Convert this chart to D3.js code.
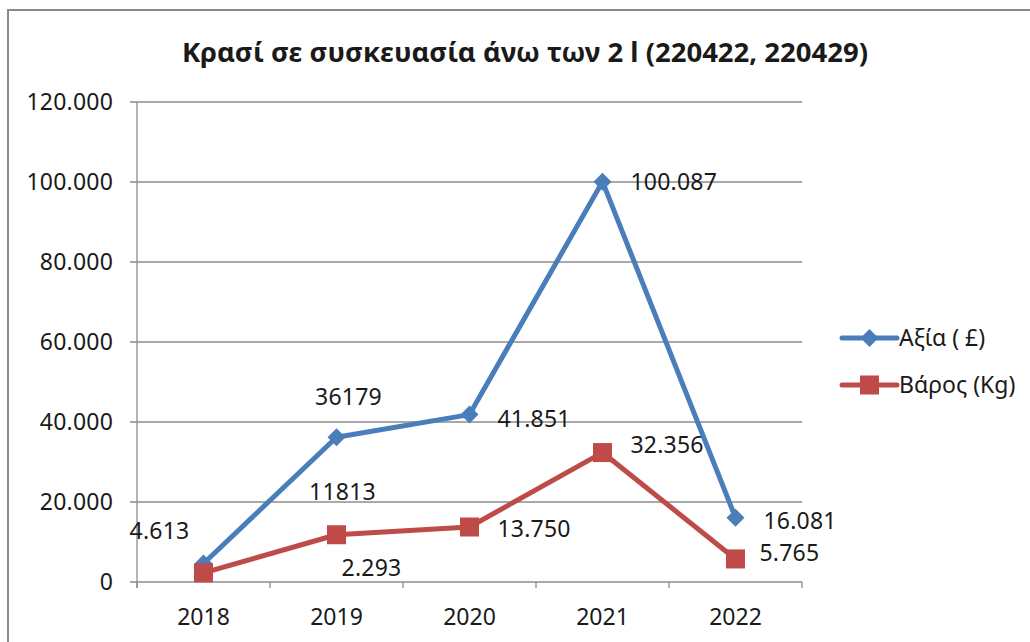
<!DOCTYPE html>
<html>
<head>
<meta charset="utf-8">
<script src="https://cdn.jsdelivr.net/npm/d3@7"></script>
<style>
  html, body { margin: 0; padding: 0; background: #fff; }
  svg { display: block; }
  text { font-family: "Noto Sans", "Liberation Sans", sans-serif; fill: #1a1a1a; }
</style>
</head>
<body>
<svg id="chart" width="1030" height="642"></svg>
<script>
// ---- data ----
const title = "Κρασί σε συσκευασία άνω των 2 l (220422, 220429)";
const years = ["2018", "2019", "2020", "2021", "2022"];
const valueSeriesName = "Αξία ( £)";
const weightSeriesName = "Βάρος (Kg)";
const valueData = [4613, 36179, 41851, 100087, 16081];
const weightData = [2293, 11813, 13750, 32356, 5765];
const valueLabels = ["4.613", "36179", "41.851", "100.087", "16.081"];
const weightLabels = ["2.293", "11813", "13.750", "32.356", "5.765"];
const yTicks = [0, 20000, 40000, 60000, 80000, 100000, 120000];
const yTickLabels = ["0", "20.000", "40.000", "60.000", "80.000", "100.000", "120.000"];

// label placement (offsets from point, px) — layout only
const valueLabelOffsets = [[-44, -25], [12, -32], [28, 12], [28, 8], [28, 11]];
const weightLabelOffsets = [[168, 3], [6, -35], [28, 10], [28, 0], [24, 2]];

const blue = "#4A7EBB";
const red = "#BE4B48";
const grid = "#8c8c8c";
const fs = 23;

const svg = d3.select("#chart");

// outer chart border (extends past right & bottom edges)
svg.append("path")
  .attr("d", "M8,700 L8,10 L1040,10")
  .attr("fill", "none").attr("stroke", "#8a8a8a").attr("stroke-width", 2);

// title
svg.append("text")
  .attr("x", 525).attr("y", 62)
  .attr("text-anchor", "middle")
  .attr("font-weight", "bold")
  .attr("font-size", 27.5)
  .text(title);

const plot = { left: 137, right: 802, top: 102, bottom: 582 };

const x = d3.scaleBand().domain(years).range([plot.left, plot.right]).padding(0);
const y = d3.scaleLinear().domain([0, 120000]).range([plot.bottom, plot.top]);
const cx = d => x(d) + x.bandwidth() / 2;

// gridlines
svg.append("g").selectAll("line").data(yTicks).join("line")
  .attr("x1", plot.left - 7).attr("x2", plot.right)
  .attr("y1", d => y(d)).attr("y2", d => y(d))
  .attr("stroke", grid).attr("stroke-width", 1.3);

// y axis line
svg.append("line")
  .attr("x1", plot.left).attr("x2", plot.left)
  .attr("y1", plot.top).attr("y2", plot.bottom + 6)
  .attr("stroke", grid).attr("stroke-width", 1.3);

// y tick labels
svg.append("g").selectAll("text").data(yTicks).join("text")
  .attr("x", plot.left - 24).attr("y", d => y(d) + 8)
  .attr("text-anchor", "end")
  .attr("font-size", fs)
  .attr("letter-spacing", 0.2)
  .text((d, i) => yTickLabels[i]);

// x category ticks
const boundaries = years.map(d => x(d)).concat([plot.right]);
svg.append("g").selectAll("line").data(boundaries).join("line")
  .attr("x1", d => d).attr("x2", d => d)
  .attr("y1", plot.bottom).attr("y2", plot.bottom + 6)
  .attr("stroke", grid).attr("stroke-width", 1.3);

// x labels
svg.append("g").selectAll("text").data(years).join("text")
  .attr("x", d => cx(d)).attr("y", 625)
  .attr("text-anchor", "middle")
  .attr("font-size", fs)
  .text(d => d);

const line = d3.line().x((d, i) => cx(years[i])).y(d => y(d));

// weight line
svg.append("path").datum(weightData)
  .attr("d", line).attr("fill", "none")
  .attr("stroke", red).attr("stroke-width", 5).attr("stroke-linejoin", "round");
// value line
svg.append("path").datum(valueData)
  .attr("d", line).attr("fill", "none")
  .attr("stroke", blue).attr("stroke-width", 5).attr("stroke-linejoin", "round");

function diamondPath(s) { return `M0,${-s} L${s},0 L0,${s} L${-s},0 Z`; }

// value markers (diamonds)
svg.append("g").selectAll("path").data(valueData).join("path")
  .attr("transform", (d, i) => `translate(${cx(years[i])},${y(d)})`)
  .attr("d", diamondPath(9))
  .attr("fill", blue);

// weight markers (squares)
svg.append("g").selectAll("rect").data(weightData).join("rect")
  .attr("x", (d, i) => cx(years[i]) - 9.5)
  .attr("y", d => y(d) - 9.5)
  .attr("width", 19).attr("height", 19)
  .attr("fill", red);

// data labels
svg.append("g").selectAll("text").data(valueData).join("text")
  .attr("x", (d, i) => cx(years[i]) + valueLabelOffsets[i][0])
  .attr("y", (d, i) => y(d) + valueLabelOffsets[i][1])
  .attr("text-anchor", (d, i) => valueLabelOffsets[i][0] < 0 || i === 1 ? "middle" : "start")
  .attr("font-size", fs)
  .attr("letter-spacing", 0.2)
  .text((d, i) => valueLabels[i]);

svg.append("g").selectAll("text").data(weightData).join("text")
  .attr("x", (d, i) => cx(years[i]) + weightLabelOffsets[i][0])
  .attr("y", (d, i) => y(d) + weightLabelOffsets[i][1])
  .attr("text-anchor", (d, i) => i <= 1 ? "middle" : "start")
  .attr("font-size", fs)
  .attr("letter-spacing", 0.2)
  .text((d, i) => weightLabels[i]);

// legend
const legend = [
  { name: valueSeriesName, color: blue, shape: "diamond", y: 338 },
  { name: weightSeriesName, color: red, shape: "square", y: 385 }
];
const lg = svg.append("g").selectAll("g").data(legend).join("g")
  .attr("transform", d => `translate(842,${d.y})`);
lg.append("line").attr("x1", 0).attr("x2", 55).attr("y1", 0).attr("y2", 0)
  .attr("stroke", d => d.color).attr("stroke-width", 5).attr("stroke-linecap", "round");
lg.filter(d => d.shape === "diamond").append("path")
  .attr("transform", "translate(27.5,0)").attr("d", diamondPath(9)).attr("fill", d => d.color);
lg.filter(d => d.shape === "square").append("rect")
  .attr("x", 18).attr("y", -9.5).attr("width", 19).attr("height", 19).attr("fill", d => d.color);
lg.append("text").attr("x", 57).attr("y", 8)
  .attr("font-size", fs)
  .text(d => d.name);
</script>
</body>
</html>
